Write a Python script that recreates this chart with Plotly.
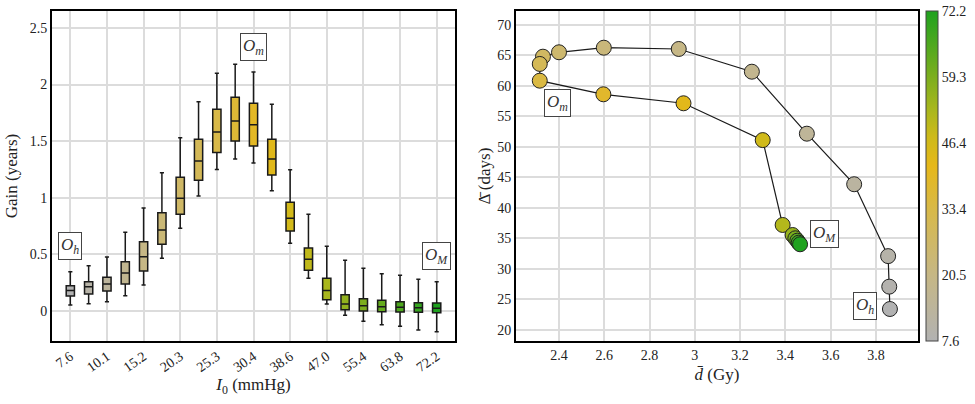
import plotly.graph_objects as go
from plotly.colors import sample_colorscale

# ---------------- data ----------------
I0 = [7.6, 8.85, 10.1, 12.65, 15.2, 17.75, 20.3, 22.8, 25.3, 27.85, 30.4,
      34.5, 38.6, 42.8, 47.0, 51.2, 55.4, 59.6, 63.8, 68.0, 72.2]
tick_labels = ["7.6", "10.1", "15.2", "20.3", "25.3", "30.4", "38.6", "47.0", "55.4", "63.8", "72.2"]

gain_upper = [0.347, 0.40, 0.477, 0.695, 0.91, 1.222, 1.531, 1.849, 2.10, 2.18, 2.111,
              1.826, 1.248, 0.854, 0.571, 0.448, 0.377, 0.33, 0.315, 0.28, 0.259]
gain_q3 = [0.224, 0.259, 0.298, 0.436, 0.612, 0.868, 1.181, 1.517, 1.782, 1.888, 1.835,
           1.517, 0.96, 0.557, 0.289, 0.144, 0.109, 0.094, 0.082, 0.073, 0.071]
gain_median = [0.18, 0.215, 0.239, 0.336, 0.48, 0.716, 0.995, 1.325, 1.581, 1.678, 1.646,
               1.343, 0.819, 0.457, 0.18, 0.062, 0.047, 0.038, 0.033, 0.029, 0.024]
gain_q1 = [0.133, 0.15, 0.177, 0.239, 0.353, 0.589, 0.854, 1.154, 1.40, 1.502, 1.458,
           1.201, 0.707, 0.36, 0.10, 0.012, 0.0, -0.006, -0.009, -0.012, -0.015]
gain_lower = [0.053, 0.065, 0.082, 0.135, 0.23, 0.466, 0.73, 1.016, 1.25, 1.343, 1.307,
              1.063, 0.598, 0.289, 0.062, -0.038, -0.091, -0.121, -0.135, -0.168, -0.183]

d_bar = [3.862, 3.859, 3.854, 3.704, 3.495, 3.252, 2.929, 2.598, 2.40, 2.329, 2.315,
         2.315, 2.596, 2.95, 3.30, 3.388, 3.432, 3.444, 3.453, 3.459, 3.465]
delta_bar = [23.44, 27.1, 32.1, 43.87, 52.15, 62.3, 66.02, 66.23, 65.48, 64.76, 63.57,
             60.83, 58.6, 57.13, 51.1, 37.2, 35.56, 35.02, 34.63, 34.3, 34.04]

cbar_ticks = [7.6, 20.5, 33.4, 46.4, 59.3, 72.2]

# ---------------- style ----------------
colorscale = [
    [0.0, "#b2b2b2"],
    [0.2, "#c6b785"],
    [0.4, "#d8b948"],
    [0.53, "#e6b81a"],
    [0.62, "#cdba1a"],
    [0.7, "#a9b71d"],
    [0.8, "#7cae1e"],
    [1.0, "#1fa21f"],
]
cmin, cmax = min(I0), max(I0)
FONT = "Liberation Serif"

fig = go.Figure()

# left: box plots (coloured by position along the colormap)
n = len(I0)
for i in range(n):
    col = sample_colorscale(colorscale, [i / (n - 1)])[0]
    fig.add_trace(go.Box(
        x=[i], q1=[gain_q1[i]], median=[gain_median[i]], q3=[gain_q3[i]],
        lowerfence=[gain_lower[i]], upperfence=[gain_upper[i]],
        fillcolor=col, line=dict(color="#1a1a1a", width=1.5),
        width=0.45, whiskerwidth=0.5, showlegend=False,
        xaxis="x", yaxis="y", hoverinfo="skip",
    ))

# right: trajectory
fig.add_trace(go.Scatter(
    x=d_bar, y=delta_bar, mode="lines+markers",
    line=dict(color="#1a1a1a", width=1.2),
    marker=dict(size=15, color=I0, colorscale=colorscale, cmin=cmin, cmax=cmax,
                line=dict(color="#222", width=1),
                colorbar=dict(
                    tickvals=cbar_ticks, ticktext=[f"{v:.1f}" for v in cbar_ticks],
                    thickness=12, lenmode="pixels", len=330,
                    x=926 / 975, xanchor="left", y=(404 - 176) / 404, yanchor="middle",
                    outlinecolor="#444", outlinewidth=1, ticks="",
                    tickfont=dict(family=FONT, size=14, color="#222"),
                    xpad=0, ypad=0,
                )),
    showlegend=False, xaxis="x2", yaxis="y2", hoverinfo="skip",
))

grid = "#dcdcdc"
axis_common = dict(showline=True, linecolor="black", linewidth=2, mirror=True,
                   gridcolor=grid, gridwidth=1.5, zeroline=False, ticks="",
                   tickfont=dict(family=FONT, size=14, color="#222"))

fig.update_layout(
    width=975, height=404,
    margin=dict(l=0, r=0, t=0, b=0),
    paper_bgcolor="white", plot_bgcolor="white",
    font=dict(family=FONT, color="#222"),
    xaxis=dict(domain=[52 / 975, 455 / 975], range=[-1, 21],
               tickvals=list(range(0, 21, 2)), ticktext=tick_labels, tickangle=-35,
               title=dict(text="<i>I</i><sub>0</sub> (mmHg)", font=dict(size=17), standoff=0),
               anchor="y", **axis_common),
    yaxis=dict(domain=[63 / 404, 393 / 404], range=[-0.265, 2.65],
               tickvals=[0, 0.5, 1, 1.5, 2, 2.5], ticktext=["0", "0.5", "1", "1.5", "2", "2.5"],
               title=dict(text="Gain (years)", font=dict(size=17), standoff=8),
               anchor="x", **axis_common),
    xaxis2=dict(domain=[516 / 975, 918 / 975], range=[2.21, 3.986],
                tickvals=[2.4, 2.6, 2.8, 3.0, 3.2, 3.4, 3.6, 3.8],
                ticktext=["2.4", "2.6", "2.8", "3", "3.2", "3.4", "3.6", "3.8"],
                title=dict(text="<i>d\u0304</i> (Gy)", font=dict(size=17), standoff=6),
                anchor="y2", **axis_common),
    yaxis2=dict(domain=[63 / 404, 393 / 404], range=[18.2, 72.24],
                tickvals=[20, 25, 30, 35, 40, 45, 50, 55, 60, 65, 70],
                title=dict(text="\u0394\u0304 (days)", font=dict(size=17), standoff=2),
                anchor="x2", **axis_common),
)

# dashed zero line on left
fig.add_shape(type="line", xref="x", yref="y", x0=-1, x1=21, y0=0, y1=0,
              line=dict(color="#888", width=1.2, dash="dash"), layer="below")

ann_style = dict(showarrow=False, bordercolor="#444", borderwidth=1, borderpad=2,
                 bgcolor="white", font=dict(family=FONT, size=17, color="#333"))
fig.add_annotation(x=0, y=0.574, xref="x", yref="y", text="<i>O<sub>h</sub></i>", **ann_style)
fig.add_annotation(x=10, y=2.33, xref="x", yref="y", text="<i>O<sub>m</sub></i>", **ann_style)
fig.add_annotation(x=20, y=0.486, xref="x", yref="y", text="<i>O<sub>M</sub></i>", **ann_style)
fig.add_annotation(x=2.394, y=57.18, xref="x2", yref="y2", text="<i>O<sub>m</sub></i>", **ann_style)
fig.add_annotation(x=3.575, y=35.73, xref="x2", yref="y2", text="<i>O<sub>M</sub></i>", **ann_style)
fig.add_annotation(x=3.754, y=23.9, xref="x2", yref="y2", text="<i>O<sub>h</sub></i>", **ann_style)

fig.write_html("out.html")
